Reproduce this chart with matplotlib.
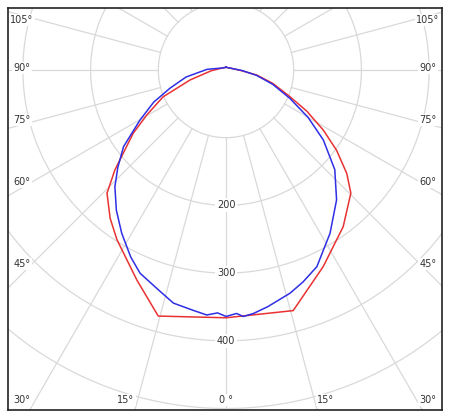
import numpy as np
import matplotlib
matplotlib.use("Agg")
import matplotlib.pyplot as plt

# gamma (deg from nadir, negative = left side) and intensity (cd)
red_gamma = [-180, -120, -87, -74.5, -66.9, -60.5, -55.7, -48, -44, -38, -32.7, -23, -15.4, 0,
             15.6, 26.3, 36.8, 45.4, 49.4, 54, 58.3, 63, 67.4, 74, 80.7, 88, 120, 180]
red_cd = [4, 6, 22, 55, 101, 134, 166, 221, 253, 278, 298, 337, 377, 366,
          369, 324, 289, 259, 235, 202, 169, 134, 102, 72, 46, 22, 6, 4]

blue_gamma = [-180, -120, -92, -86, -80, -72, -66, -59.8, -53.2, -48, -43.6, -38, -32.6, -27, -22.9,
              -17, -12.7, -8, -4.5, -2, 0, 2.5, 4, 6.4, 10, 16, 20, 24.8, 32.5, 40.4, 47.5, 54.3,
              60, 66.1, 73, 80, 88, 120, 180]
blue_cd = [4, 6, 28, 38, 60, 87, 117, 147, 189, 215, 238, 263, 286, 310, 326,
           340, 353, 358, 363, 359, 364, 360, 365, 362, 355, 343, 333, 320, 286, 252, 218, 177,
           140, 103, 72, 46, 24, 6, 4]

ring_vals = [100, 200, 300, 400, 500, 600, 700]
ring_labels = ["200", "300", "400"]
angle_labels = [("105°", 22, 20), ("90°", 22, 68), ("75°", 22, 120), ("60°", 22, 182), ("45°", 22, 264),
                ("30°", 22, 400), ("15°", 126, 400), ("0 °", 226, 400), ("15°", 326, 400), ("30°", 428, 400),
                ("105°", 428, 20), ("90°", 428, 68), ("75°", 428, 120), ("60°", 428, 182), ("45°", 428, 264)]

W, H = 450, 413
CX, CY, S = 226, 70, 0.677   # centre pixel, px per cd

fig = plt.figure(figsize=(W/100, H/100), dpi=100)
ax = fig.add_axes([8/W, 1-410/H, 434/W, 402/H])
ax.set_xlim((8-CX)/S, (442-CX)/S)
ax.set_ylim((CY-410)/S, (CY-8)/S)
ax.set_xticks([]); ax.set_yticks([])
for s in ax.spines.values():
    s.set_color("#222222"); s.set_linewidth(1.2)

grid = "#d9d9d9"
t = np.linspace(0, 2*np.pi, 400)
for r in ring_vals:
    ax.plot(r*np.cos(t), r*np.sin(t), color=grid, lw=0.9, zorder=1)
for g in range(-180, 181, 15):
    a = np.radians(g)
    ax.plot([100*np.sin(a), 900*np.sin(a)], [-100*np.cos(a), -900*np.cos(a)], color=grid, lw=0.9, zorder=1)

for lab in ring_labels:
    ax.text(0, -int(lab), lab, ha='center', va='center', fontsize=7, color="#333333",
            bbox=dict(fc='white', ec='none', pad=1.5), zorder=2)

def xy(g, r):
    a = np.radians(np.array(g))
    r = np.array(r)
    return r*np.sin(a), -r*np.cos(a)

ax.plot(*xy(red_gamma, red_cd), color="#e83232", lw=1.1, zorder=3)
ax.plot(*xy(blue_gamma, blue_cd), color="#2e2ee6", lw=1.1, zorder=4)

for lab, px, py in angle_labels:
    fig.text(px/W, 1-py/H, lab, ha='center', va='center', fontsize=7, color="#333333",
             bbox=dict(fc='white', ec='none', pad=1))

fig.savefig("out.png", dpi=100)
